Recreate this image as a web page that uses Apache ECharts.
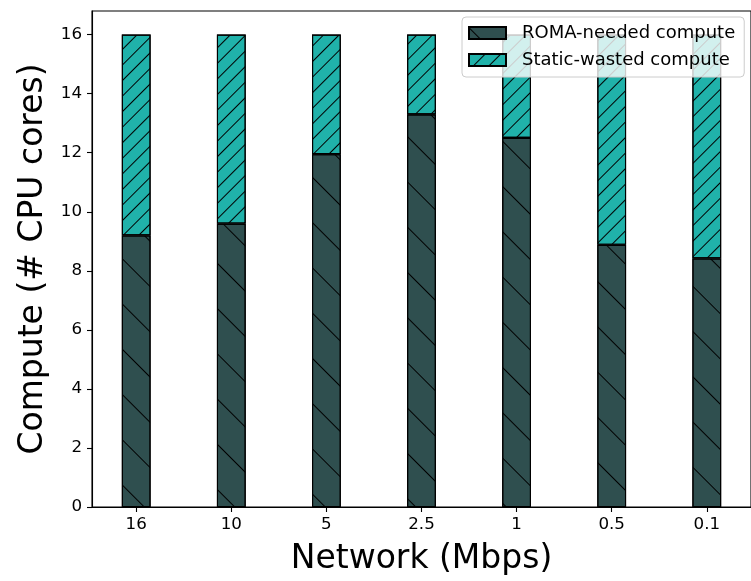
<!DOCTYPE html>
<html>
<head>
<meta charset="utf-8">
<title>Compute vs network bandwidth</title>
<script src="https://cdn.jsdelivr.net/npm/echarts@6/dist/echarts.min.js"></script>
<style>
  html, body { margin: 0; padding: 0; background: #fff; }
  #chart { width: 751px; height: 581px; }
</style>
</head>
<body>
<div id="chart"></div>
<script>
// Network bandwidth settings (Mbps), one bar per setting
const networkLabels = ['16', '10', '5', '2.5', '1', '0.5', '0.1'];
// CPU cores actually needed by ROMA at each bandwidth
const romaNeeded = [9.2, 9.6, 11.95, 13.3, 12.5, 8.88, 8.42];
// Cores a static 16-core allocation wastes on top of that
const staticTotal = 16;
const staticWasted = romaNeeded.map(v => +(staticTotal - v).toFixed(2));
// Y axis ticks
const yTicks = [0, 2, 4, 6, 8, 10, 12, 14, 16];

const positions = networkLabels.map((_, i) => i);
const FONT = 'DejaVu Sans';

const chart = echarts.init(document.getElementById('chart'), null, { renderer: 'canvas' });

// Rows are [cores, position]; the cores column comes first so the stack runs along y.
const toRows = values => positions.map(i => [values[i], i]);

chart.setOption({
  animation: false,
  backgroundColor: '#ffffff',
  grid: {
    left: 92, top: 11, width: 665.6, height: 496,
    show: true, borderColor: '#000', borderWidth: 1.1, backgroundColor: 'transparent'
  },
  legend: {
    orient: 'vertical',
    left: 462, top: 17,
    padding: [7, 9, 8, 6],
    itemGap: 9,
    itemWidth: 37, itemHeight: 12,
    backgroundColor: 'rgba(255,255,255,0.8)',
    borderColor: '#cccccc', borderWidth: 1, borderRadius: 4,
    icon: 'rect',
    textStyle: { fontFamily: FONT, fontSize: 18, color: '#000', padding: [0, 0, 0, 11] },
    data: ['ROMA-needed compute', 'Static-wasted compute']
  },
  xAxis: {
    type: 'value',
    min: -0.465, max: 6.465,
    name: 'Network (Mbps)',
    nameLocation: 'middle',
    nameGap: 36,
    nameTextStyle: { fontFamily: FONT, fontSize: 33, color: '#000' },
    axisLine: { show: true, onZero: false, lineStyle: { color: '#000', width: 1.1 } },
    axisTick: { show: true, customValues: positions, length: 5, lineStyle: { color: '#000', width: 1.1 } },
    axisLabel: {
      customValues: positions,
      margin: 9,
      fontFamily: FONT, fontSize: 16.7, color: '#000',
      formatter: v => networkLabels[Math.round(v)]
    },
    splitLine: { show: false }
  },
  yAxis: {
    type: 'value',
    min: 0, max: 16.8,
    name: 'Compute (# CPU cores)',
    nameLocation: 'middle',
    nameGap: 39,
    nameTextStyle: { fontFamily: FONT, fontSize: 33, color: '#000' },
    axisLine: { show: true, onZero: false, lineStyle: { color: '#000', width: 1.1 } },
    axisTick: { show: true, customValues: yTicks, length: 5, lineStyle: { color: '#000', width: 1.1 } },
    axisLabel: { customValues: yTicks, margin: 10, fontFamily: FONT, fontSize: 16.7, color: '#000' },
    splitLine: { show: false }
  },
  series: [
    {
      name: 'ROMA-needed compute',
      type: 'bar',
      stack: 'cores',
      barWidth: 28.8,
      encode: { x: 1, y: 0 },
      data: toRows(romaNeeded),
      itemStyle: {
        color: '#2f4f4f',
        borderColor: '#000', borderWidth: 1.1,
        decal: {
          symbol: 'rect', symbolSize: 1,
          color: '#000',
          dashArrayX: [1, 0], dashArrayY: [1, 31],
          rotation: Math.PI / 4
        }
      }
    },
    {
      name: 'Static-wasted compute',
      type: 'bar',
      stack: 'cores',
      barWidth: 28.8,
      encode: { x: 1, y: 0 },
      data: toRows(staticWasted),
      itemStyle: {
        color: '#20b2aa',
        borderColor: '#000', borderWidth: 1.1,
        decal: {
          symbol: 'rect', symbolSize: 1,
          color: '#000',
          dashArrayX: [1, 0], dashArrayY: [1, 10],
          rotation: -Math.PI / 4
        }
      }
    }
  ]
});
</script>
</body>
</html>
